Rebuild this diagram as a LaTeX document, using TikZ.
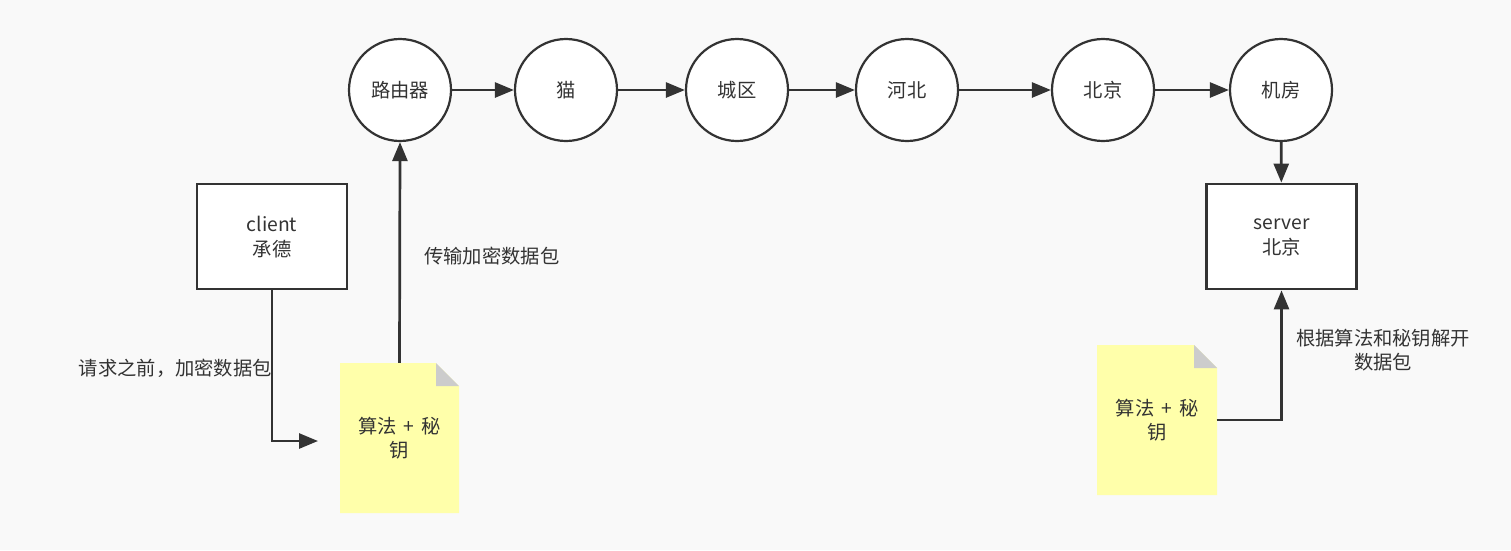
\documentclass[tikz,border=0pt]{standalone}
\usepackage{fontspec}
\setmainfont{Noto Sans CJK SC}
\usetikzlibrary{arrows.meta}
\definecolor{bg}{RGB}{249,249,249}
\definecolor{ink}{RGB}{51,51,51}
\definecolor{notey}{RGB}{255,255,170}
\definecolor{foldg}{RGB}{204,204,204}
\tikzset{
  every node/.style={font=\fontsize{19.3}{24.5}\selectfont, text=ink},
  hop/.style={circle, draw=ink, line width=2.2pt, fill=white, minimum size=102pt, inner sep=0pt},
  hostbox/.style={rectangle, draw=ink, line width=2.8pt, fill=white, minimum width=150pt, minimum height=105pt, align=center, text depth=-2pt},
  notebody/.style={rectangle, draw=none, minimum width=119pt, minimum height=150pt, align=center, inner sep=0pt},
  conn/.style={draw=ink, line width=2.7pt, -{Triangle[length=19pt,width=15pt]}},
  lbl/.style={align=center, inner sep=0pt}
}
\newcommand{\keytext}{算法\hspace{7pt}+\hspace{7pt}秘\\钥}
\begin{document}
\begin{tikzpicture}[x=1pt,y=-1pt]
\fill[bg] (0,0) rectangle (1511,550);
\useasboundingbox (0,0) rectangle (1511,550);

% hop circles
\node[hop] (r)  at (400,90)  {路由器};
\node[hop] (m)  at (566,90)  {猫};
\node[hop] (cq) at (737,90)  {城区};
\node[hop] (hb) at (907,90)  {河北};
\node[hop] (bj) at (1103,90) {北京};
\node[hop] (jf) at (1281,90) {机房};

% boxes
\node[hostbox] (cl)  at (272,236.5)  {client\\承德};
\node[hostbox] (srv) at (1281.5,236.5) {server\\北京};

% notes
\fill[notey] (340,363) -- (436,363) -- (459,386) -- (459,513) -- (340,513) -- cycle;
\fill[foldg] (436,363) -- (459,386) -- (436,386) -- cycle;
\node[notebody] (n1) at (399.5,438) {\keytext};
\fill[notey] (1097,345) -- (1194,345) -- (1217,368) -- (1217,495) -- (1097,495) -- cycle;
\fill[foldg] (1194,345) -- (1217,368) -- (1194,368) -- cycle;
\node[notebody] (n2) at (1157,420) {\keytext};

% chain connectors
\draw[conn] (r) -- (m);
\draw[conn] (m) -- (cq);
\draw[conn] (cq) -- (hb);
\draw[conn] (hb) -- (bj);
\draw[conn] (bj) -- (jf);
\draw[conn] (jf) -- (srv);

% client to note
\coordinate (c1end) at (318,441);
\draw[conn] (cl.south) |- (c1end);
% note to router
\draw[conn] (n1.north) -- (r.south);
% note to server
\draw[conn] (n2.east) -| (srv.south);

% labels
\node[lbl, anchor=west] (t1) at (424,256) {传输加密数据包};
\node[lbl, anchor=east] (t2) at (272,368) {请求之前，加密数据包};
\node[lbl] (t3) at (1383,350) {根据算法和秘钥解开\\数据包};
\end{tikzpicture}
\end{document}
